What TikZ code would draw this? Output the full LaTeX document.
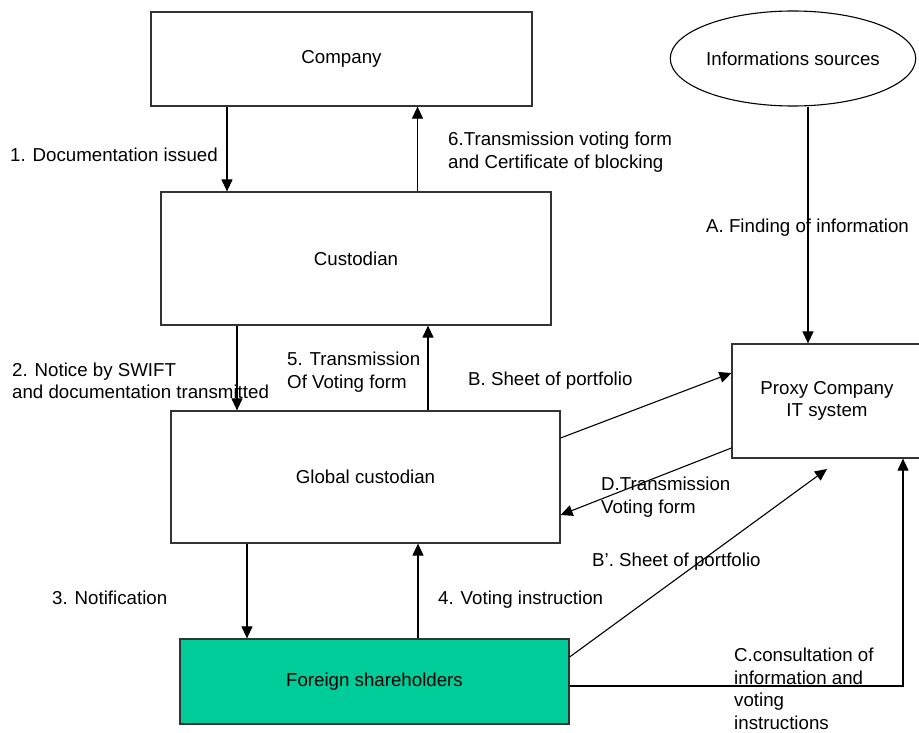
\documentclass[tikz,border=0pt]{standalone}
\usepackage{fontspec}
\setmainfont{Liberation Sans}
\usetikzlibrary{arrows.meta,shapes.geometric}
\definecolor{shgreen}{RGB}{0,204,153}
\begin{document}
\begin{tikzpicture}[x=1pt,y=-1pt,
  font=\fontsize{18.7}{22.5}\selectfont,
  box/.style={draw=black!80, line width=1.2pt, rectangle, inner sep=0pt},
  lbl/.style={anchor=west, align=left, inner sep=0pt},
  arr/.style={draw=black, line width=1.1pt, -{Triangle[length=12pt,width=11pt]}},
  link/.style={draw=black, line width=1.1pt}]
\useasboundingbox (0,0) rectangle (919,733);

% boxes
\node[box, minimum width=381pt, minimum height=94pt] (company) at (341.5,59) {Company};
\node[box, minimum width=390pt, minimum height=133pt] (custodian) at (356,258.5) {Custodian};
\node[box, minimum width=389pt, minimum height=132pt] (global) at (365.5,477) {Global custodian};
\node[box, fill=shgreen, minimum width=389pt, minimum height=85pt] (foreign) at (374.5,681.5) {Foreign shareholders};
\node[box, align=center, minimum width=190pt, minimum height=114pt] (proxy) at (827,401) {Proxy Company\\IT system};
\node[draw=black, line width=1.1pt, ellipse, inner sep=0pt, minimum width=220pt, minimum height=95pt] (info) at (793,58.5) {Informations sources};

% helper positions for the connectors
\coordinate (x1) at (227,0);
\coordinate (x6) at (417.5,0);
\coordinate (x2) at (237,0);
\coordinate (x5) at (428,0);
\coordinate (x3) at (247,0);
\coordinate (x4) at (418,0);
\coordinate (xa) at (808,0);
\coordinate (xc) at (903,0);
\coordinate (yb1) at (0,438);
\coordinate (yb2) at (0,373);
\coordinate (yd1) at (0,448);
\coordinate (yd2) at (0,515);
\coordinate (ybp) at (0,657);
\coordinate (yc) at (0,686);
\coordinate (bpend) at (827,469);

% vertical flows
\draw[arr] (company.south -| x1) -- (custodian.north -| x1);
\draw[arr] (custodian.north -| x6) -- (company.south -| x6);
\draw[arr] (custodian.south -| x2) -- (global.north -| x2);
\draw[arr] (global.north -| x5) -- (custodian.south -| x5);
\draw[arr] (global.south -| x3) -- (foreign.north -| x3);
\draw[arr] (foreign.north -| x4) -- (global.south -| x4);
\draw[arr] (info.south -| xa) -- (proxy.north -| xa);

% links to the proxy company
\draw[arr] (global.east |- yb1) -- (proxy.west |- yb2);
\draw[arr] (proxy.west |- yd1) -- (global.east |- yd2);
\draw[arr] (foreign.east |- ybp) -- (bpend);
\draw[arr] (foreign.east |- yc) -| (proxy.south -| xc);

% labels
\node[lbl] (l1) at (10,155) {1. Documentation issued};
\node[lbl] (l6) at (448,152) {6.Transmission voting form\\and Certificate of blocking};
\node[lbl] (la) at (706,228) {A. Finding of information};
\node[lbl] (l2) at (12,381) {2. Notice by SWIFT\\and documentation transmitted};
\node[lbl] (l5) at (287,372) {5. Transmission\\Of Voting form};
\node[lbl] (lb) at (468,381) {B. Sheet of portfolio};
\node[lbl] (ld) at (601,497) {D.Transmission\\Voting form};
\node[lbl] (lbp) at (592,562) {B'. Sheet of portfolio};
\node[lbl] (l3) at (52,598) {3. Notification};
\node[lbl] (l4) at (438,600) {4. Voting instruction};
\node[lbl] (lc) at (734,689) {C.consultation of\\information and\\voting\\instructions};
\end{tikzpicture}
\end{document}
